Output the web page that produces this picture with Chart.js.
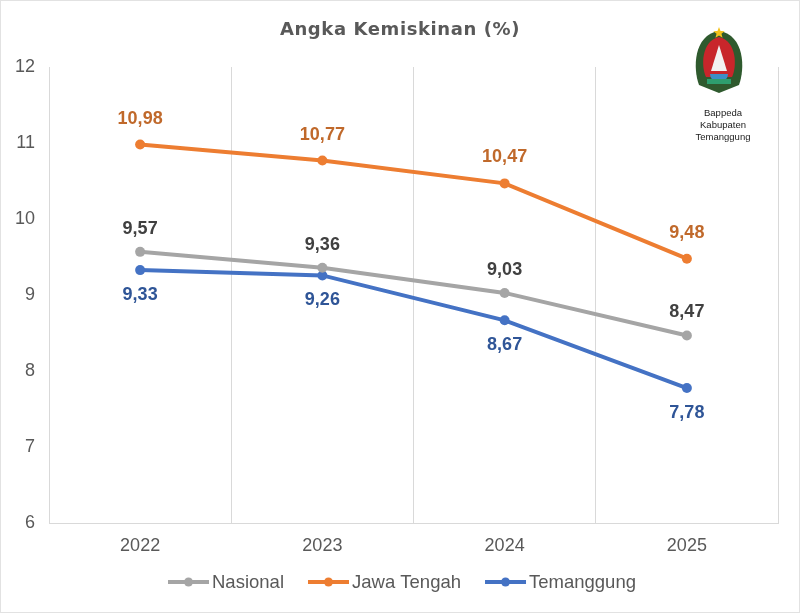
<!DOCTYPE html>
<html>
<head>
<meta charset="utf-8">
<script src="https://cdn.jsdelivr.net/npm/chart.js@4.4.1/dist/chart.umd.min.js"></script>
<style>
  html, body { margin: 0; padding: 0; background: #fff; }
  #wrap { position: relative; width: 800px; height: 613px; box-sizing: border-box; border: 1px solid #e2e2e2; }
</style>
</head>
<body>
<div id="wrap"><canvas id="povertyChart"></canvas></div>
<script>
// Data
const years = ['2022', '2023', '2024', '2025'];
const nasional = [9.57, 9.36, 9.03, 8.47];
const jawaTengah = [10.98, 10.77, 10.47, 9.48];
const temanggung = [9.33, 9.26, 8.67, 7.78];
const yTicks = [6, 7, 8, 9, 10, 11, 12];
const chartTitle = 'Angka Kemiskinan (%)';
const logoText = ['Bappeda', 'Kabupaten', 'Temanggung'];

const FONT = '"Liberation Sans", Arial, sans-serif';

// Value labels next to every point
const valueLabels = {
    id: 'valueLabels',
    afterDatasetsDraw(chart) {
        const ctx = chart.ctx;
        ctx.save();
        ctx.font = 'bold 18px ' + FONT;
        ctx.textAlign = 'center';
        ctx.textBaseline = 'middle';
        chart.data.datasets.forEach((ds, i) => {
            const meta = chart.getDatasetMeta(i);
            meta.data.forEach((pt, j) => {
                const text = ds.data[j].toFixed(2).replace('.', ',');
                ctx.fillStyle = ds.labelColor;
                ctx.fillText(text, pt.x, pt.y + ds.labelOffset);
            });
        });
        ctx.restore();
    }
};

// Title, legend and the Bappeda emblem
const extras = {
    id: 'extras',
    afterDraw(chart) {
        const ctx = chart.ctx;
        ctx.save();

        // title
        ctx.fillStyle = '#595959';
        ctx.font = 'bold 18px "DejaVu Sans", Verdana, sans-serif';
        ctx.textAlign = 'center';
        ctx.textBaseline = 'middle';
        if ('letterSpacing' in ctx) ctx.letterSpacing = '0.6px';
        ctx.fillText(chartTitle, 399, 29);
        if ('letterSpacing' in ctx) ctx.letterSpacing = '0px';

        // legend: line with dot, then label
        ctx.font = '18.5px ' + FONT;
        ctx.textAlign = 'left';
        const lineLen = 41, textGap = 3, itemGap = 24;
        const items = chart.data.datasets.map(ds => ({ ds, w: ctx.measureText(ds.label).width }));
        const total = items.reduce((s, it) => s + lineLen + textGap + it.w, 0) + itemGap * (items.length - 1);
        let x = 401 - total / 2;
        const ly = 581;
        items.forEach(it => {
            ctx.strokeStyle = it.ds.borderColor;
            ctx.lineWidth = 4;
            ctx.beginPath();
            ctx.moveTo(x, ly);
            ctx.lineTo(x + lineLen, ly);
            ctx.stroke();
            ctx.beginPath();
            ctx.fillStyle = it.ds.borderColor;
            ctx.arc(x + lineLen / 2, ly, 4.5, 0, Math.PI * 2);
            ctx.fill();
            ctx.fillStyle = '#595959';
            ctx.fillText(it.ds.label, x + lineLen + textGap, ly + 1);
            x += lineLen + textGap + it.w + itemGap;
        });

        // emblem (rough)
        const cx = 718, top = 28;
        ctx.beginPath();
        ctx.moveTo(cx, top + 2);
        ctx.bezierCurveTo(cx + 26, top + 6, cx + 26, top + 40, cx + 20, top + 56);
        ctx.lineTo(cx, top + 64);
        ctx.lineTo(cx - 20, top + 56);
        ctx.bezierCurveTo(cx - 26, top + 40, cx - 26, top + 6, cx, top + 2);
        ctx.fillStyle = '#2f5a2e';
        ctx.fill();
        ctx.beginPath();
        ctx.moveTo(cx, top + 8);
        ctx.bezierCurveTo(cx + 18, top + 12, cx + 18, top + 38, cx + 13, top + 48);
        ctx.lineTo(cx - 13, top + 48);
        ctx.bezierCurveTo(cx - 18, top + 38, cx - 18, top + 12, cx, top + 8);
        ctx.fillStyle = '#c8262b';
        ctx.fill();
        ctx.beginPath();
        ctx.moveTo(cx, top + 16);
        ctx.lineTo(cx + 8, top + 42);
        ctx.lineTo(cx - 8, top + 42);
        ctx.closePath();
        ctx.fillStyle = '#f2f2f2';
        ctx.fill();
        ctx.beginPath();
        ctx.arc(cx, top + 45, 9, Math.PI, 0, true);
        ctx.fillStyle = '#3c8fc7';
        ctx.fill();
        ctx.fillStyle = '#2e9e6e';
        ctx.fillRect(cx - 12, top + 50, 24, 5);
        // star
        ctx.beginPath();
        for (let k = 0; k < 10; k++) {
            const r = k % 2 === 0 ? 6 : 2.6;
            const a = -Math.PI / 2 + k * Math.PI / 5;
            ctx.lineTo(cx + r * Math.cos(a), top + 4 + r * Math.sin(a));
        }
        ctx.closePath();
        ctx.fillStyle = '#f4c21b';
        ctx.fill();

        ctx.fillStyle = '#222';
        ctx.font = '9.5px ' + FONT;
        ctx.textAlign = 'center';
        logoText.forEach((t, k) => ctx.fillText(t, 722, 112 + k * 12));
        ctx.restore();
    }
};

const ctx = document.getElementById('povertyChart').getContext('2d');
new Chart(ctx, {
    type: 'line',
    data: {
        labels: years,
        datasets: [
            {
                label: 'Nasional',
                data: nasional,
                borderColor: '#A5A5A5',
                backgroundColor: '#A5A5A5',
                labelColor: '#404040',
                labelOffset: -23
            },
            {
                label: 'Jawa Tengah',
                data: jawaTengah,
                borderColor: '#ED7D31',
                backgroundColor: '#ED7D31',
                labelColor: '#C0692B',
                labelOffset: -26
            },
            {
                label: 'Temanggung',
                data: temanggung,
                borderColor: '#4472C4',
                backgroundColor: '#4472C4',
                labelColor: '#2F5597',
                labelOffset: 25
            }
        ]
    },
    options: {
        responsive: true,
        maintainAspectRatio: false,
        animation: false,
        elements: {
            line: { borderWidth: 4, tension: 0 },
            point: { radius: 5, borderWidth: 0 }
        },
        layout: { padding: { left: 0, right: 21, top: 66, bottom: 43 } },
        scales: {
            x: {
                offset: true,
                grid: { offset: true, color: '#D9D9D9', lineWidth: 1, drawTicks: false },
                border: { color: '#D9D9D9' },
                ticks: { color: '#595959', font: { family: FONT, size: 18 }, padding: 12 }
            },
            y: {
                min: 6,
                max: 12,
                afterBuildTicks: (scale) => { scale.ticks = yTicks.map(v => ({ value: v })); },
                afterFit: (scale) => { scale.width = 48; },
                grid: { display: false },
                border: { display: false },
                ticks: { color: '#595959', font: { family: FONT, size: 18 }, padding: 6 }
            }
        },
        plugins: {
            title: { display: false },
            legend: { display: false },
            tooltip: { enabled: false }
        }
    },
    plugins: [valueLabels, extras]
});
</script>
</body>
</html>
